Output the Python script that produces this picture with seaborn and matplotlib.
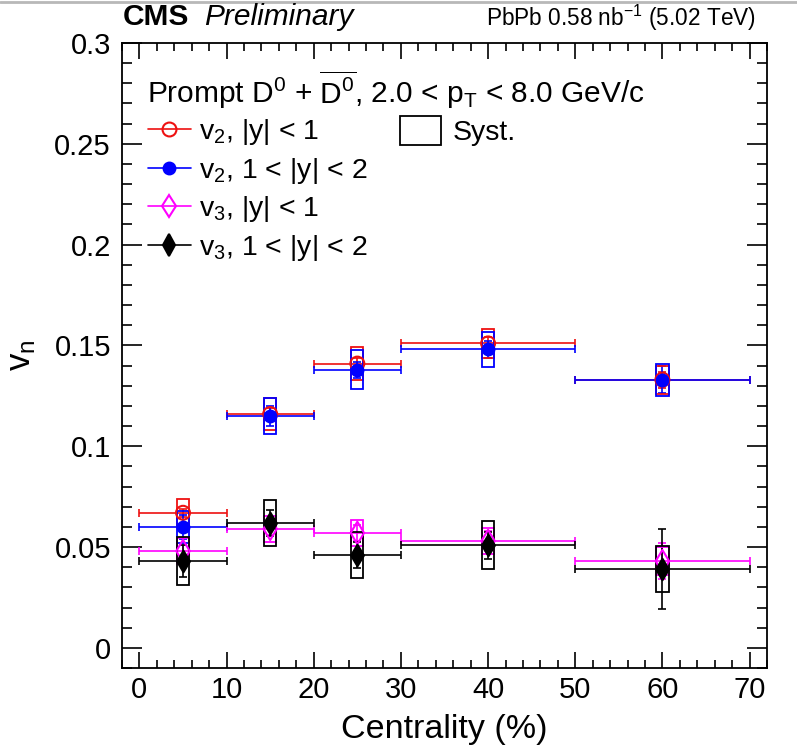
import numpy as np
import pandas as pd
import matplotlib
matplotlib.use("Agg")
import matplotlib.pyplot as plt
from matplotlib.lines import Line2D
from matplotlib.patches import Rectangle
from matplotlib.ticker import MultipleLocator, FuncFormatter
import seaborn as sns

# Centrality bins (%)
cent_lo = [0, 10, 20, 30, 50]
cent_hi = [10, 20, 30, 50, 70]
cent_mid = [5, 15, 25, 40, 60]

# v2, |y| < 1
v2_mid_val = [0.067, 0.116, 0.141, 0.151, 0.133]
v2_mid_stat = [0.002, 0.003, 0.003, 0.003, 0.004]
v2_mid_syst = [0.007, 0.008, 0.008, 0.007, 0.007]

# v2, 1 < |y| < 2
v2_fwd_val = [0.060, 0.115, 0.138, 0.148, 0.133]
v2_fwd_stat = [0.006, 0.005, 0.004, 0.004, 0.0066]
v2_fwd_syst = [0.008, 0.009, 0.0095, 0.0085, 0.008]

# v3, |y| < 1
v3_mid_val = [0.048, 0.059, 0.057, 0.053, 0.043]
v3_mid_stat = [0.003, 0.003, 0.004, 0.005, 0.009]
v3_mid_syst = [0.0065, 0.0065, 0.0065, 0.0065, 0.007]

# v3, 1 < |y| < 2
v3_fwd_val = [0.043, 0.062, 0.046, 0.051, 0.039]
v3_fwd_stat = [0.008, 0.0065, 0.0066, 0.0067, 0.0198]
v3_fwd_syst = [0.012, 0.0115, 0.0115, 0.0117, 0.0114]

series_labels = [r"v$_{2}$, |y| < 1", r"v$_{2}$, 1 < |y| < 2",
                 r"v$_{3}$, |y| < 1", r"v$_{3}$, 1 < |y| < 2"]

sns.set_theme(style="ticks")
plt.rcParams.update({
    "font.family": ["Liberation Sans", "DejaVu Sans"],
    "mathtext.fontset": "custom",
    "mathtext.rm": "Liberation Sans",
    "mathtext.it": "Liberation Sans:italic",
    "mathtext.bf": "Liberation Sans:bold",
    "axes.edgecolor": "black",
    "axes.labelcolor": "black",
    "axes.linewidth": 1.3,
    "xtick.color": "black",
    "ytick.color": "black",
    "xtick.labelcolor": "black",
    "ytick.labelcolor": "black",
    "text.color": "black",
})

frames = []
styles = [
    dict(color="#ee1111", marker="o", s=100, filled=False),
    dict(color="#0000ff", marker="o", s=72, filled=True),
    dict(color="#ff00ff", marker="d", s=130, filled=False),
    dict(color="#000000", marker="d", s=120, filled=True),
]
values = [(v2_mid_val, v2_mid_stat, v2_mid_syst),
          (v2_fwd_val, v2_fwd_stat, v2_fwd_syst),
          (v3_mid_val, v3_mid_stat, v3_mid_syst),
          (v3_fwd_val, v3_fwd_stat, v3_fwd_syst)]
for lab, (val, stat, syst) in zip(series_labels, values):
    frames.append(pd.DataFrame({"series": lab, "lo": cent_lo, "hi": cent_hi,
                                "mid": cent_mid, "v": val, "stat": stat,
                                "syst": syst}))
df = pd.concat(frames, ignore_index=True)

W, H = 797, 750
fig = plt.figure(figsize=(W / 100, H / 100), dpi=100)
ax = fig.add_axes([122 / W, 1 - 668 / H, (767 - 122) / W, (668 - 43) / H])

handles = []
for lab, st in zip(series_labels, styles):
    d = df[df["series"] == lab]
    c = st["color"]
    # systematic uncertainty boxes
    ax.bar(d["mid"], 2 * d["syst"], bottom=d["v"] - d["syst"], width=1.4,
           fill=False, edgecolor=c, linewidth=1.3, zorder=3)
    # statistical errors and bin widths
    ax.errorbar(d["mid"], d["v"],
                xerr=[d["mid"] - d["lo"], d["hi"] - d["mid"]],
                yerr=d["stat"], fmt="none", ecolor=c, elinewidth=1.2,
                capsize=2.6, capthick=1.2, zorder=2)
    fc = c if st["filled"] else "none"
    sns.scatterplot(x=d["mid"].to_numpy(), y=d["v"].to_numpy(), ax=ax,
                    marker=st["marker"], s=st["s"], facecolor=fc,
                    edgecolor=c, linewidth=1.5, zorder=4, legend=False)
    handles.append(Line2D([], [], color=c, lw=1.2, marker=st["marker"],
                          markersize=np.sqrt(st["s"]), markerfacecolor=fc,
                          markeredgecolor=c, markeredgewidth=1.5))

ax.set_xlim(-2, 72)
ax.set_ylim(-0.01, 0.3)
ax.xaxis.set_major_locator(MultipleLocator(10))
ax.xaxis.set_minor_locator(MultipleLocator(2))
ax.yaxis.set_major_locator(MultipleLocator(0.05))
ax.yaxis.set_minor_locator(MultipleLocator(0.01))
ax.yaxis.set_major_formatter(FuncFormatter(lambda v, p: f"{v:g}"))
ax.tick_params(which="both", direction="in", top=True, right=True,
               labelsize=21, width=1.2)
ax.tick_params(axis="x", which="major", length=11.5, pad=6)
ax.tick_params(axis="x", which="minor", length=5.8)
ax.tick_params(axis="y", which="major", length=14.4, pad=8)
ax.tick_params(axis="y", which="minor", length=7.2)
for sp in ax.spines.values():
    sp.set_visible(True)
    sp.set_color("black")

ax.set_xlabel("Centrality (%)", fontsize=24.5, labelpad=7)
ax.set_ylabel(r"v$_{\mathrm{n}}$", fontsize=25, labelpad=12)

# header
fig.text(123 / W, 1 - 17 / H, "CMS", fontsize=21.5, fontweight="bold",
         va="center", ha="left")
fig.text(204 / W, 1 - 17 / H, "Preliminary", fontsize=21.5, style="italic",
         va="center", ha="left")
fig.text(756 / W, 1 - 18 / H, r"PbPb 0.58 nb$^{-1}$ (5.02 TeV)",
         fontsize=16.3, va="center", ha="right")
fig.add_artist(Line2D([0, 1], [0.997, 0.997], transform=fig.transFigure,
                      color="#b8b8b8", lw=2))

fig.text(147 / W, 1 - 90 / H,
         r"Prompt D$^{0}$ + $\overline{\mathrm{D}^{0}}$, 2.0 < p$_{\mathrm{T}}$ < 8.0 GeV/c",
         fontsize=21.5, va="center", ha="left")

leg1 = ax.legend(handles, series_labels, loc="upper left",
                 bbox_to_anchor=(148 / W, 1 - 117 / H),
                 bbox_transform=fig.transFigure, frameon=False, fontsize=20.5,
                 handlelength=1.5, handletextpad=0.3, labelspacing=0.3,
                 borderpad=0, borderaxespad=0)
ax.add_artist(leg1)
syst_handle = Rectangle((0, 0), 1, 1, facecolor="white", edgecolor="black",
                        linewidth=1.3)
ax.legend([syst_handle], ["Syst."], loc="upper left",
          bbox_to_anchor=(400 / W, 1 - 116 / H),
          bbox_transform=fig.transFigure, frameon=False, fontsize=20.5,
          handlelength=1.45, handleheight=1.2, handletextpad=0.4,
          borderpad=0, borderaxespad=0)

fig.savefig("out.png", dpi=100)
